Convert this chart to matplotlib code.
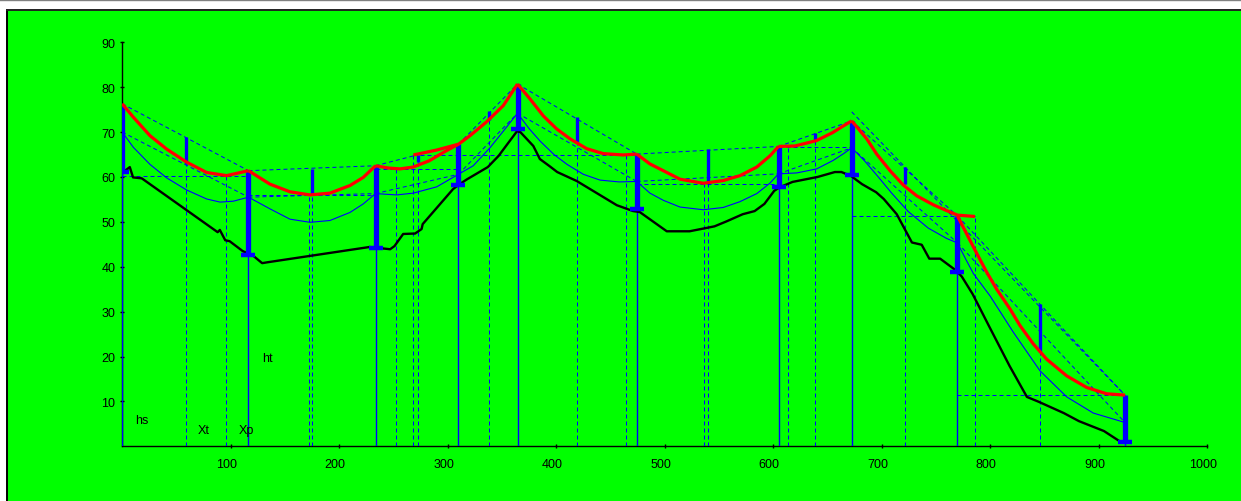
import matplotlib
matplotlib.use('Agg')
import matplotlib.pyplot as plt
from matplotlib.patches import Rectangle
from matplotlib.lines import Line2D
from matplotlib.transforms import ScaledTranslation

# terrain profile
ground_x = [1, 7, 10, 18, 88, 90, 95, 99, 111, 121, 129, 134, 228, 247, 251, 259, 270, 276, 277,
            305, 311, 318, 337, 347, 355, 364, 367, 379, 385, 394, 401, 419, 456, 471, 477, 502,
            523, 546, 557, 572, 583, 592, 601, 606, 618, 641, 657, 663, 672, 682, 695, 702, 714,
            728, 737, 744, 754, 769, 774, 784, 799, 818, 834, 845, 868, 882, 905, 919]
ground_y = [61.1, 62.2, 59.9, 59.7, 47.7, 48.2, 45.9, 45.7, 43.5, 42.4, 40.8, 41.0, 44.4, 43.9,
            44.6, 47.3, 47.4, 48.4, 49.5, 57.3, 58.4, 59.5, 62.2, 64.7, 67.3, 70.2, 70.0, 66.9,
            64.0, 62.4, 61.1, 59.1, 53.7, 52.4, 52.2, 47.9, 47.9, 49.0, 50.1, 51.7, 52.4, 54.0,
            56.9, 57.7, 58.9, 60.0, 61.1, 61.1, 60.2, 58.4, 56.6, 55.1, 51.7, 45.4, 44.9, 41.8,
            41.8, 39.1, 37.8, 33.9, 26.8, 17.9, 11.0, 9.9, 7.4, 5.6, 3.4, 1.2]

# towers
tower_x = [0, 116.4, 233.5, 310, 364.4, 474.3, 605, 672.5, 770, 924.4]
tower_base = [61.0, 42.7, 44.2, 58.3, 70.7, 52.9, 57.7, 60.4, 38.8, 0.9]
tower_top = [76.3, 61.4, 62.5, 67.3, 80.7, 65.1, 66.8, 72.5, 51.3, 11.4]

# conductor (red) per span
red_x = [
    [0, 10.3, 25.6, 41.0, 59.4, 77.8, 96.2, 116.4],
    [116.4, 136.2, 154.6, 173.1, 191.5, 210.0, 222.2, 233.5],
    [233.5, 245, 256, 268, 283, 297, 310],
    [268.4, 289.9, 310, 320.6, 336.0, 351.3, 364.4],
    [364.4, 375.9, 388.2, 400.5, 412.8, 428.2, 443.5, 461.9, 474.3],
    [474.3, 486.5, 498.8, 514.2, 535.7, 554.1, 569.5, 584.9, 597.1, 605],
    [605, 620, 640, 655, 665, 672.5],
    [672.5, 686.3, 695.5, 707.8, 720.0, 732.4, 747.7, 760.0, 770, 786.1],
    [770, 778.5, 787.7, 796.9, 806.1, 818.4, 827.6, 839.9, 852.2, 870.6, 889.1, 907.5, 924.4],
]
red_y = [
    [76.3, 73.3, 69.2, 66.2, 63.3, 61.0, 60.3, 61.4],
    [61.4, 58.4, 56.7, 56.0, 56.4, 58.1, 59.9, 62.5],
    [62.5, 62.0, 61.8, 62.2, 63.6, 65.6, 67.3],
    [64.9, 66.0, 67.3, 69.2, 72.3, 75.9, 80.7],
    [80.7, 77.4, 73.6, 70.7, 68.5, 66.3, 65.2, 64.9, 65.1],
    [65.1, 62.9, 61.4, 59.5, 58.6, 59.2, 60.3, 62.2, 64.7, 66.8],
    [66.8, 66.9, 68.1, 69.9, 71.4, 72.5],
    [72.5, 68.5, 65.1, 61.4, 58.2, 55.8, 53.8, 52.5, 51.5, 51.2],
    [51.3, 47.3, 43.0, 38.8, 35.0, 30.6, 26.9, 22.8, 19.4, 15.7, 13.1, 11.7, 11.4],
]

# clearance curve (thin blue) per span
blue_x = [
    [0, 10.3, 25.6, 41.0, 59.4, 77.8, 90.2, 102.4, 116.4],
    [116.4, 136.2, 154.6, 173.1, 191.5, 210.0, 222.2, 233.5],
    [233.5, 253, 268.4, 289.9, 310],
    [310, 323.6, 339.0, 351.3, 364.4],
    [364.4, 375, 385.2, 398, 410.1, 425, 440.5, 458, 474.3],
    [474.3, 486.5, 498.8, 514.2, 535.7, 554, 569.5, 585, 597, 605],
    [605, 621.8, 640.2, 655.5, 665, 672.5],
    [672.5, 684.7, 697, 709.3, 724.6, 743.1, 760, 770],
    [770, 778, 784.6, 800, 821.5, 846.1, 870.7, 895.2, 924.4],
]
blue_y = [
    [70.0, 66.6, 62.8, 59.8, 57.1, 55.1, 54.4, 54.6, 55.5],
    [55.5, 52.9, 50.6, 49.9, 50.3, 52.1, 54.0, 56.3],
    [56.3, 56.0, 56.4, 57.8, 60.6],
    [60.6, 62.5, 66.5, 70.2, 74.2],
    [74.2, 70.8, 68.0, 65.0, 62.8, 60.6, 59.3, 58.9, 59.0],
    [59.0, 56.4, 54.8, 53.3, 52.7, 53.2, 54.5, 56.3, 58.6, 60.7],
    [60.7, 60.9, 61.8, 63.7, 65.2, 66.5],
    [66.5, 63.5, 60.0, 56.4, 52.3, 48.6, 46.3, 45.3],
    [45.3, 41.5, 38.5, 33.5, 25.4, 16.8, 11.0, 7.4, 5.3],
]

# lowest point of each span
vertex_x = [96, 172, 252, 268.4, 464.4, 536, 613.5, 786.1, 924.4]
vertex_y = [60.3, 55.9, 61.8, 64.9, 64.9, 58.4, 66.7, 51.2, 11.4]
vertex_from = [0, 116.4, 233.5, 268.4, 364.4, 474.3, 605, 672.5, 770]
vertex_to = [116.4, 233.5, 310, 364.4, 474.3, 605, 672.5, 786.1, 924.4]

# mid-span sag
mid_x = [58.5, 175, 273, 338, 419.5, 540.3, 638.6, 721.6, 846.1]
mid_red = [62.9, 56.0, 63.3, 72.6, 67.7, 59.2, 68.1, 58.4, 20.9]
mid_chord = [69.0, 61.8, 64.9, 74.8, 73.3, 66.2, 69.9, 62.2, 31.7]

extra_x = [672.5, 924.4]
extra_y = [74.5, 11.4]

labels = ['hs', 'Xt', 'Xp', 'ht']
label_x = [17.8, 74.9, 114.1, 133.5]
label_y = [5.9, 3.6, 3.6, 19.7]

W, H = 1241, 502
plt.rcParams['font.family'] = ['Liberation Sans', 'DejaVu Sans']
fig = plt.figure(figsize=(W / 100, H / 100), dpi=100)
fig.patch.set_facecolor('white')
fig.add_artist(Rectangle((7 / W, 0), 1 - 7 / W, (H - 10.5) / H, transform=fig.transFigure,
                         facecolor='#00ff00', edgecolor='none', zorder=-10))
fig.add_artist(Line2D([6.5 / W, 6.5 / W], [0, (H - 10.5) / H], color='black', lw=1.4,
                      transform=fig.transFigure))
fig.add_artist(Line2D([6.5 / W, 1], [(H - 10.5) / H] * 2, color='#202020', lw=1.4,
                      transform=fig.transFigure))
fig.add_artist(Line2D([0, 1], [(H - 0.5) / H] * 2, color='#808080', lw=1.0,
                      transform=fig.transFigure))

ax = fig.add_axes([122.2 / W, (H - 447.3) / H, (1207 - 122.2) / W, (447.3 - 43.3) / H])
ax.set_facecolor('none')
ax.set_xlim(0, 1000)
ax.set_ylim(0, 90)

blue = '#0000ff'
dash = (0, (4, 3))
dkw = dict(color=blue, lw=0.72, linestyle=dash, zorder=2)

n = len(red_x)
for i in range(n):
    # chord between tower tops and the clearance chord
    ax.plot([tower_x[i], tower_x[i + 1]], [tower_top[i], tower_top[i + 1]], **dkw)
    ax.plot([blue_x[i][0], blue_x[i][-1]], [blue_y[i][0], blue_y[i][-1]], **dkw)
    # level of lowest point
    ax.plot([vertex_from[i], vertex_to[i]], [vertex_y[i], vertex_y[i]], **dkw)
    ax.plot([vertex_x[i], vertex_x[i]], [0, vertex_y[i]], **dkw)
    ax.plot([mid_x[i], mid_x[i]], [0, mid_red[i]], **dkw)
    # clearance curve
    ax.plot(blue_x[i], blue_y[i], color=blue, lw=0.8, zorder=3)
ax.plot(extra_x, extra_y, **dkw)

# tower verticals
ax.vlines(tower_x, 0, tower_base, color=blue, lw=1.0, zorder=3)
ax.plot(ground_x, ground_y, color='black', lw=1.7, zorder=4)
ax.vlines(tower_x, tower_base, tower_top, color=blue, lw=3.8, zorder=5)
ax.plot(tower_x, tower_base, linestyle='none', marker='_', ms=10, mew=3.2, color=blue, zorder=5)
ax.vlines(mid_x, mid_red, mid_chord, color=blue, lw=2.4, zorder=5)

for i in range(n):
    ax.plot(red_x[i], red_y[i], color='#ff0000', lw=2.3, zorder=6, solid_capstyle='butt')

for t, x, y in zip(labels, label_x, label_y):
    ax.text(x, y, t, fontsize=9, ha='center', va='center', color='black')

for s in ['top', 'right']:
    ax.spines[s].set_visible(False)
for s in ['left', 'bottom']:
    ax.spines[s].set_linewidth(1.0)
    ax.spines[s].set_color('black')
    ax.spines[s].set_zorder(1)

ax.set_xticks(range(100, 1001, 100))
ax.set_yticks(range(10, 91, 10))
ax.tick_params(direction='inout', length=3.4, width=1.0, labelsize=9, colors='black')
ax.tick_params(axis='x', pad=6.5)
ax.tick_params(axis='y', pad=3.3)
for lab in ax.get_xticklabels():
    lab.set_transform(lab.get_transform() + ScaledTranslation(-0.04, 0, fig.dpi_scale_trans))

fig.savefig('out.png', dpi=100)
